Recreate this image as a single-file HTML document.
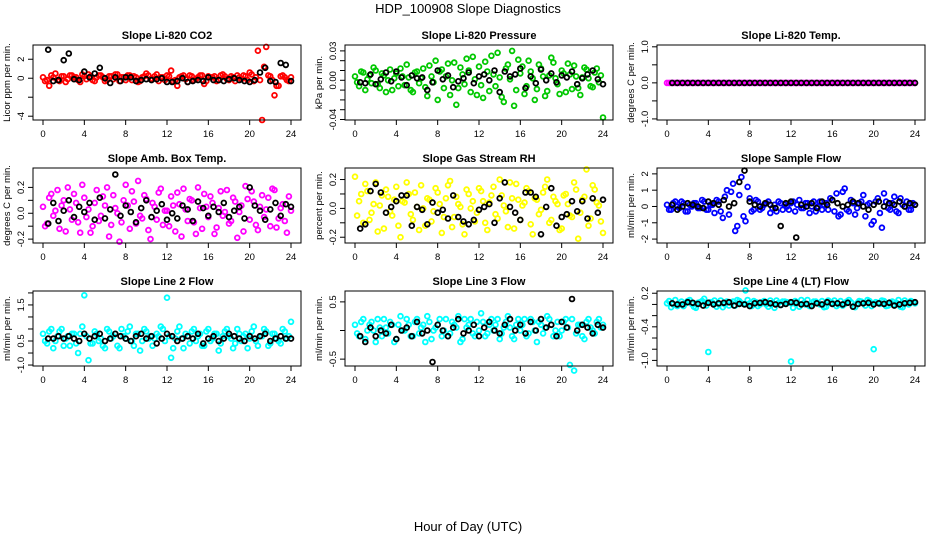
<!DOCTYPE html>
<html><head><meta charset="utf-8">
<style>
html,body{margin:0;padding:0;background:#fff;}
svg{display:block;font-family:"Liberation Sans",sans-serif;}
</style></head>
<body>
<svg id="chart" width="936" height="540" viewBox="0 0 936 540">
<rect width="936" height="540" fill="#fff"/>
<text x="468" y="13" text-anchor="middle" font-size="13">HDP_100908  Slope Diagnostics</text>
<text x="468" y="531" text-anchor="middle" font-size="13">Hour of Day (UTC)</text>
</svg>
<script>
const hoursA=[0,0.4,0.8,1.2,1.6,2,2.4,2.8,3.2,3.6,4,4.4,4.8,5.2,5.6,6,6.4,6.8,7.2,7.6,8,8.4,8.8,9.2,9.6,10,10.4,10.8,11.2,11.6,12,12.4,12.8,13.2,13.6,14,14.4,14.8,15.2,15.6,16,16.4,16.8,17.2,17.6,18,18.4,18.8,19.2,19.6,20,20.4,20.8,21.2,21.6,22,22.4,22.8,23.2,23.6,24];
const hoursB=[0.2,0.6,1,1.4,1.8,2.2,2.6,3,3.4,3.8,4.2,4.6,5,5.4,5.8,6.2,6.6,7,7.4,7.8,8.2,8.6,9,9.4,9.8,10.2,10.6,11,11.4,11.8,12.2,12.6,13,13.4,13.8,14.2,14.6,15,15.4,15.8,16.2,16.6,17,17.4,17.8,18.2,18.6,19,19.4,19.8,20.2,20.6,21,21.4,21.8,22.2,22.6,23,23.4,23.8];
const hoursK=[0.5,1,1.5,2,2.5,3,3.5,4,4.5,5,5.5,6,6.5,7,7.5,8,8.5,9,9.5,10,10.5,11,11.5,12,12.5,13,13.5,14,14.5,15,15.5,16,16.5,17,17.5,18,18.5,19,19.5,20,20.5,21,21.5,22,22.5,23,23.5,24];
const xTicks=[0,4,8,12,16,20,24];

const co2A=[0.1,-0.2,0.3,0.5,-0.3,0.2,-0.1,0.3,0.1,-0.4,0.2,0.4,-0.2,0.1,0.3,-0.3,0.2,-0.1,0.4,0.1,-0.2,0.3,0.2,-0.4,0.1,0.5,-0.1,0.2,-0.3,0.1,0.3,0.8,-0.2,0.1,0.3,-0.4,0.2,-0.1,0.3,-0.6,0.2,0.1,-0.3,0.3,0.2,-0.2,0.1,0.3,-0.1,0.2,0.6,-0.3,2.9,-4.4,3.3,0.2,-1.8,-0.8,0.3,-0.2,0.1];
const co2B=[-0.3,-0.8,0.1,-0.2,0.2,-0.4,0.3,0.1,-0.2,0.4,-0.1,0.2,-0.3,0.3,0.1,-0.2,0.2,0.4,-0.3,0.1,0.3,-0.2,0.1,-0.3,0.2,0.3,-0.1,0.4,0.1,-0.2,0.2,-0.3,-0.8,0.2,-0.1,0.3,-0.2,0.1,0.3,-0.3,0.1,0.2,-0.2,0.4,-0.1,0.2,-0.3,0.1,0.3,-0.2,0.4,0.1,-0.2,1.2,0.3,-0.2,-0.8,0.2,0.1,-0.3];
const co2K=[3.0,-0.3,-0.2,1.9,2.6,-0.1,-0.2,0.7,0.1,0.5,1.1,0,-0.5,0.1,-0.3,0.1,0.1,-0.3,-0.2,-0.1,-0.2,-0.1,0,-0.4,-0.4,-0.3,0,-0.4,-0.3,-0.2,-0.3,0.1,-0.2,-0.2,-0.3,-0.1,0,-0.2,-0.3,-0.4,-0.2,0.6,1.1,-0.3,-0.4,1.6,1.4,-0.3];

const presA=[0.004,-0.006,0.008,0.001,-0.003,0.010,-0.008,0.005,0.000,-0.010,0.007,0.012,-0.005,0.003,-0.012,0.009,0.002,-0.007,0.015,-0.002,-0.020,0.011,0.004,-0.015,0.018,-0.008,0.006,0.022,-0.012,0.001,0.014,-0.018,0.009,0.025,-0.006,0.003,-0.022,0.016,0.030,-0.010,0.007,-0.014,0.020,0.002,-0.009,0.012,-0.016,0.005,0.018,-0.004,0.010,-0.012,0.006,0.015,-0.008,0.003,0.011,-0.006,0.008,-0.002,-0.038];
const presB=[-0.002,0.009,-0.010,0.005,0.013,-0.004,0.007,-0.012,0.011,0.002,-0.006,0.004,0.016,-0.010,0.008,-0.003,0.012,-0.016,0.004,0.020,0.009,-0.008,0.017,0.000,-0.025,0.013,-0.004,0.010,0.024,-0.015,-0.005,0.019,-0.011,0.006,0.028,-0.017,0.012,0.001,-0.026,0.021,0.014,-0.006,0.009,-0.020,0.016,0.004,-0.011,0.023,0.002,-0.014,0.007,0.017,-0.009,0.004,-0.015,0.013,0.002,-0.007,0.012,0.005];
const presK=[-0.002,-0.003,0.006,-0.004,0.001,0.008,-0.001,0.009,0.003,-0.005,0.005,0.002,0.003,-0.010,-0.002,0.010,0.001,0.005,-0.007,-0.001,0.002,0.008,-0.003,0.004,0.006,0.000,0.010,-0.012,0.009,0.004,0.006,0.012,-0.008,0.004,-0.003,0.011,0.000,0.007,-0.002,0.005,0.003,0.009,-0.004,0.002,0.006,0.010,0.001,-0.004];

const tempA=[0,0,0,0,0,0,0,0,0,0,0,0,0,0,0,0,0,0,0,0,0,0,0,0,0,0,0,0,0,0,0,0,0,0,0,0,0,0,0,0,0,0,0,0,0,0,0,0,0,0,0,0,0,0,0,0,0,0,0,0,0];
const tempB=[0,0,0,0,0,0,0,0,0,0,0,0,0,0,0,0,0,0,0,0,0,0,0,0,0,0,0,0,0,0,0,0,0,0,0,0,0,0,0,0,0,0,0,0,0,0,0,0,0,0,0,0,0,0,0,0,0,0,0,0];
const tempK=[0,0,0,0,0,0,0,0,0,0,0,0,0,0,0,0,0,0,0,0,0,0,0,0,0,0,0,0,0,0,0,0,0,0,0,0,0,0,0,0,0,0,0,0,0,0,0,0];

const ambA=[0.05,-0.08,0.15,0.02,-0.12,0.10,0.20,-0.05,0.08,-0.15,0.12,0.03,-0.10,0.18,-0.02,0.06,-0.18,0.14,0.00,-0.07,0.22,-0.12,0.09,0.25,-0.04,0.11,-0.20,0.05,0.16,-0.09,0.02,0.13,-0.14,0.07,0.19,-0.06,0.10,-0.16,0.04,0.15,-0.03,0.08,-0.11,0.17,0.01,-0.08,0.12,-0.19,0.06,0.21,-0.05,0.09,-0.13,0.14,0.03,-0.10,0.18,-0.04,0.07,-0.15,0.02];
const ambB=[-0.10,0.12,-0.02,0.18,0.06,-0.14,0.03,0.15,-0.07,0.22,-0.03,-0.15,0.08,-0.06,0.13,0.20,-0.09,0.04,-0.22,0.10,0.06,0.17,-0.08,-0.02,0.14,-0.13,0.08,-0.05,0.19,0.02,-0.10,0.06,0.16,-0.18,0.03,0.11,-0.07,0.20,-0.12,0.05,0.13,-0.16,0.04,-0.02,0.18,-0.06,0.09,0.01,-0.14,0.11,0.17,-0.09,0.05,-0.03,0.12,0.19,-0.11,0.04,-0.06,0.13];
const ambK=[-0.08,0.08,-0.06,0.02,0.10,-0.03,0.05,0.01,0.08,-0.05,0.12,-0.04,0.03,0.30,-0.02,0.06,0.01,-0.07,0.04,0.10,-0.03,0.02,0.07,-0.05,0.00,-0.04,0.06,0.03,-0.06,0.09,0.04,-0.02,0.05,0.01,0.08,-0.03,0.02,0.05,-0.04,0.20,0.06,0.02,-0.05,0.03,0.08,-0.02,0.07,0.05];

const rhA=[0.22,0.05,-0.10,0.12,-0.03,0.18,0.02,-0.14,0.08,-0.05,0.15,-0.20,0.04,0.10,-0.08,0.01,0.16,-0.12,0.06,-0.02,0.11,-0.17,0.07,0.19,-0.06,0.03,-0.11,0.13,0.00,-0.09,0.14,0.05,-0.15,0.09,-0.04,0.20,0.02,-0.13,0.07,0.17,-0.08,0.04,0.12,-0.18,0.06,-0.01,0.15,-0.10,0.08,0.03,-0.14,0.10,-0.05,0.18,-0.21,0.06,0.27,-0.07,0.13,0.02,-0.17];
const rhB=[-0.05,0.10,0.17,-0.08,0.03,-0.16,0.09,0.13,-0.02,0.06,-0.12,0.05,0.18,-0.04,0.11,-0.15,0.00,0.07,-0.09,0.14,0.03,-0.06,0.16,-0.13,0.08,0.01,-0.18,0.10,0.05,-0.03,0.12,-0.10,0.04,0.15,-0.07,0.09,-0.02,0.18,-0.14,0.06,0.02,0.14,-0.11,0.07,-0.04,0.11,0.20,-0.08,0.05,-0.15,0.09,0.03,-0.06,0.13,-0.03,0.08,-0.12,0.16,0.04,-0.09];
const rhK=[-0.14,-0.11,0.12,0.17,0.11,-0.03,0.01,0.05,0.09,0.09,-0.12,0.01,-0.01,-0.11,0.04,-0.03,-0.01,-0.07,0.09,-0.06,-0.09,-0.11,-0.08,-0.01,0.01,0.03,-0.10,0.07,0.18,0.01,-0.03,-0.08,0.11,0.11,0.08,-0.18,0.01,0.14,-0.12,-0.06,-0.04,0.05,-0.02,0.05,-0.07,0.07,-0.03,0.06];

const flowA=[0.1,-0.2,0.3,-0.1,0.2,-0.3,0.0,0.2,-0.1,0.3,-0.2,0.1,0.4,-0.3,0.6,-0.5,1.4,-1.2,1.8,-0.9,0.5,-0.2,0.3,-0.1,0.2,-0.4,0.1,0.3,-0.2,0.0,0.2,-0.3,0.4,-0.1,0.2,0.0,-0.3,0.3,0.1,-0.2,0.4,0.8,-0.5,1.1,-0.3,0.2,-0.1,0.3,-0.6,0.2,-0.9,0.5,-1.3,0.3,-0.2,0.6,-0.4,0.1,0.3,-0.2,0.1];
const flowB=[-0.2,0.2,0.0,0.3,-0.3,0.1,0.2,-0.1,0.4,-0.2,0.1,-0.4,0.3,-0.7,1.0,0.9,-1.5,0.7,-0.6,1.2,-0.3,0.4,-0.2,0.1,0.3,-0.1,-0.3,0.2,0.1,-0.2,0.3,0.1,-0.1,0.2,-0.4,0.3,0.0,-0.2,0.2,0.5,-0.3,-0.6,0.9,-0.2,0.4,-0.5,0.2,0.7,0.1,-1.1,0.3,-0.4,0.8,-0.1,0.2,-0.3,0.5,0.0,-0.2,0.2];
const flowK=[0.1,-0.2,0.0,0.2,0.1,0.0,-0.1,0.3,0.2,0.1,0.4,0.0,0.2,1.5,2.2,0.3,0.1,0.0,0.2,0.1,-0.1,-1.2,0.2,0.3,-1.9,0.1,0.0,0.2,-0.1,0.3,0.1,0.4,0.2,0.0,0.1,0.3,0.2,0.0,-0.2,0.1,0.3,0.0,0.2,0.1,0.3,0.0,0.2,0.1];

const l2A=[0.3,-0.1,0.5,0.0,0.4,-0.2,0.2,0.3,-0.1,0.3,1.9,-0.8,-0.1,0.3,0.1,-0.3,0.4,0.2,-0.2,0.5,0.1,0.6,-0.2,0.3,0.0,0.4,0.2,0.1,0.2,0.5,1.8,-0.7,0.1,0.6,-0.3,0.2,0.4,0.0,0.3,-0.2,0.5,0.1,0.3,-0.1,0.4,0.2,-0.3,0.5,0.0,0.3,0.1,0.6,-0.2,0.2,0.4,-0.1,0.3,0.0,0.5,0.1,0.8];
const l2B=[0.0,0.4,-0.3,0.2,0.5,0.1,-0.2,0.3,-0.5,0.6,0.2,-0.1,0.4,0.0,-0.2,0.5,0.1,0.3,-0.3,0.2,0.4,0.0,0.3,-0.4,0.5,0.1,-0.2,0.3,0.6,0.0,0.2,-0.3,0.4,0.1,0.3,-0.1,0.5,0.2,-0.2,0.4,0.0,0.3,-0.4,0.2,0.5,0.1,-0.1,0.3,0.2,-0.3,0.4,0.0,0.2,0.5,-0.2,0.3,0.1,-0.1,0.4,0.2];
const l2K=[0.1,0.1,0.2,0.1,0.2,0.1,0.0,0.3,0.1,0.2,0.3,0.0,0.1,0.3,0.2,0.1,0.0,0.2,0.3,0.1,0.2,-0.1,0.1,0.3,0.2,0.0,0.1,0.2,0.1,0.3,-0.1,0.1,0.2,0.0,0.1,0.3,0.2,0.1,0.0,0.2,0.1,0.2,0.3,0.0,0.1,0.2,0.1,0.1];

const l3A=[0.1,-0.1,0.2,0.0,0.15,-0.2,0.05,0.2,-0.05,0.1,-0.15,0.25,0.0,0.1,-0.1,0.2,0.05,-0.2,0.15,0.0,0.1,-0.1,0.2,-0.05,0.1,0.25,-0.15,0.05,0.2,-0.1,0.0,0.15,-0.05,0.2,0.1,-0.15,0.05,0.25,-0.1,0.1,0.0,0.2,-0.05,0.15,-0.2,0.1,0.05,0.2,-0.1,0.15,0.0,0.2,-0.6,-0.7,0.1,-0.1,0.15,0.05,-0.05,0.2,0.1];
const l3B=[-0.05,0.15,-0.15,0.1,0.0,0.2,-0.1,0.05,0.15,-0.2,0.1,0.0,0.2,-0.1,0.15,-0.05,0.1,0.25,-0.15,0.05,0.2,0.0,-0.1,0.15,0.05,-0.2,0.2,0.1,-0.05,0.15,0.3,-0.1,0.1,0.0,0.2,-0.05,0.15,0.05,-0.15,0.2,0.1,-0.1,0.2,0.0,0.15,-0.05,0.25,0.1,0.0,-0.1,0.15,0.05,0.2,-0.05,0.1,-0.15,0.2,0.0,0.15,0.05];
const l3K=[-0.1,-0.2,0.05,-0.1,0.0,-0.05,0.1,-0.15,0.0,0.05,-0.1,0.15,-0.05,0.0,-0.55,0.1,0.0,-0.1,0.05,0.2,-0.05,0.0,0.1,-0.1,0.05,0.15,0.0,-0.05,0.1,0.2,0.0,0.1,-0.05,0.15,0.0,0.2,0.05,0.1,-0.1,0.15,0.05,0.55,0.0,0.1,0.05,-0.05,0.1,0.05];

const l4A=[0.02,-0.05,0.08,0.0,-0.03,0.06,0.01,-0.06,0.04,0.1,-0.85,0.03,-0.04,0.07,0.0,-0.02,0.05,0.08,0.02,0.25,0.02,0.06,-0.03,0.04,0.0,0.07,-0.06,0.03,0.05,0.04,-1.02,0.06,-0.04,0.02,0.08,-0.02,0.05,0.0,-0.05,0.07,0.03,-0.03,0.06,0.01,0.08,-0.04,0.02,0.05,-0.02,0.06,-0.8,0.03,0.07,-0.03,0.04,0.0,0.08,-0.05,0.03,0.06,0.02];
const l4B=[0.06,0.0,-0.03,0.05,0.02,0.08,-0.04,0.03,0.06,-0.02,0.04,0.07,0.0,-0.05,0.05,0.03,-0.02,0.06,0.01,0.08,-0.03,0.04,0.0,0.06,-0.04,0.02,0.07,-0.01,0.05,0.03,-0.06,0.04,0.08,0.0,-0.03,0.05,0.02,0.06,-0.04,0.03,0.07,0.0,-0.02,0.05,0.04,-0.05,0.06,0.02,0.08,-0.03,0.04,0.01,0.06,-0.02,0.05,0.03,-0.04,0.07,0.0,0.04];
const l4K=[0.02,0.0,0.0,0.04,0.03,0.01,-0.02,0.03,0.0,0.02,0.03,0.04,-0.02,0.01,0.0,-0.03,0.02,0.03,0.04,0.02,0.0,-0.01,0.01,0.04,0.03,0.0,0.01,-0.03,0.02,0.0,0.04,0.01,0.02,0.0,0.03,-0.04,0.01,0.02,0.03,0.0,0.02,0.01,0.03,-0.02,0.0,0.02,0.03,0.04];

const panels=[
 {id:'co2',title:'Slope Li-820 CO2',ylab:'Licor ppm per min.',lo:-4.4,hi:3.5,ticks:[-4,-2,0,2],labels:['-4','','0','2'],color:'#ff0000',a:co2A,b:co2B,k:co2K},
 {id:'pressure',title:'Slope Li-820 Pressure',ylab:'kPa per min.',lo:-0.0405,hi:0.036,ticks:[-0.04,-0.03,-0.02,-0.01,0,0.01,0.02,0.03],labels:['-0.04','','','','0.00','','','0.03'],color:'#00c800',a:presA,b:presB,k:presK},
 {id:'temp',title:'Slope Li-820 Temp.',ylab:'degrees C per min.',lo:-1.03,hi:1.05,ticks:[-1,-0.5,0,0.5,1],labels:['-1.0','','0.0','','1.0'],color:'#ff00ff',a:tempA,b:tempB,k:tempK},
 {id:'amb',title:'Slope Amb. Box Temp.',ylab:'degrees C per min.',lo:-0.23,hi:0.35,ticks:[-0.2,-0.1,0,0.1,0.2],labels:['-0.2','','0.0','','0.2'],color:'#ff00ff',a:ambA,b:ambB,k:ambK},
 {id:'rh',title:'Slope Gas Stream RH',ylab:'percent per min.',lo:-0.24,hi:0.28,ticks:[-0.2,-0.1,0,0.1,0.2],labels:['-0.2','','0.0','','0.2'],color:'#ffff00',a:rhA,b:rhB,k:rhK},
 {id:'sample-flow',title:'Slope Sample Flow',ylab:'ml/min per min.',lo:-2.24,hi:2.36,ticks:[-2,-1,0,1,2],labels:['-2','-1','0','1','2'],color:'#0000ff',a:flowA,b:flowB,k:flowK},
 {id:'line2',title:'Slope Line 2 Flow',ylab:'ml/min per min.',lo:-1.04,hi:2.08,ticks:[-1,-0.5,0,0.5,1,1.5,2],labels:['-1.0','','0.5','','','1.5',''],color:'#00ffff',a:l2A,b:l2B,k:l2K},
 {id:'line3',title:'Slope Line 3 Flow',ylab:'ml/min per min.',lo:-0.62,hi:0.69,ticks:[-0.5,0,0.5],labels:['-0.5','','0.5'],color:'#00ffff',a:l3A,b:l3B,k:l3K},
 {id:'line4',title:'Slope Line 4 (LT) Flow',ylab:'ml/min per min.',lo:-1.1,hi:0.24,ticks:[-1,-0.8,-0.6,-0.4,-0.2,0,0.2],labels:['-1.0','','','-0.4','','','0.2'],color:'#00ffff',a:l4A,b:l4B,k:l4K}
];

const svg=document.getElementById('chart');
const NS='http://www.w3.org/2000/svg';
function mk(tag,attrs,parent){const e=document.createElementNS(NS,tag);for(const k in attrs)e.setAttribute(k,attrs[k]);parent.appendChild(e);return e;}
const colL=[33,345,657], rowT=[45,168,291], W=268, H=75;

panels.forEach((p,i)=>{
  const L=colL[i%3], T=rowT[Math.floor(i/3)], R=L+W, B=T+H;
  const g=mk('g',{},svg);
  
  
  const xs=h=>L+10+h/24*(W-20);
  const ys=v=>B-(v-p.lo)/(p.hi-p.lo)*H;
  const t=mk('text',{x:(L+R)/2,y:T-6,'text-anchor':'middle','font-size':'11','font-weight':'bold'},g);
  t.textContent=p.title;
  
  
  const draw=(hrs,vals,col,nm)=>{
    for(let j=0;j<vals.length&&j<hrs.length;j++){
      const c=mk('circle',{cx:xs(hrs[j]).toFixed(1),cy:ys(vals[j]).toFixed(1),r:2.4,fill:'none',stroke:col,'stroke-width':1.8},g);
      
      
    }
  };
  draw(hoursA,p.a,p.color,'point-colored');
  draw(hoursB,p.b,p.color,'point-colored');
  draw(hoursK,p.k,'#000','point-black');
  const box=mk('rect',{x:L,y:T,width:W,height:H,fill:'none',stroke:'#000','stroke-width':1},g);
  
  
  xTicks.forEach(h=>{
    mk('line',{x1:xs(h),x2:xs(h),y1:B,y2:B+5,stroke:'#000'},g);
    const tx=mk('text',{x:xs(h),y:B+17,'text-anchor':'middle','font-size':'9.5'},g);
    tx.textContent=h;
    
    
  });
  p.ticks.forEach((v,j)=>{
    const y=ys(v);
    mk('line',{x1:L-5,x2:L,y1:y,y2:y,stroke:'#000'},g);
    if(p.labels[j]){
      const ty=mk('text',{x:L-9,y:y,'text-anchor':'middle','font-size':'9.5',transform:'rotate(-90 '+(L-9)+' '+y+')'},g);
      ty.textContent=p.labels[j];
      
      
    }
  });
  const yl=mk('text',{x:L-23,y:(T+B)/2,'text-anchor':'middle','font-size':'9.5',transform:'rotate(-90 '+(L-23)+' '+((T+B)/2)+')'},g);
  yl.textContent=p.ylab;
  
  
});
</script>
</body></html>
